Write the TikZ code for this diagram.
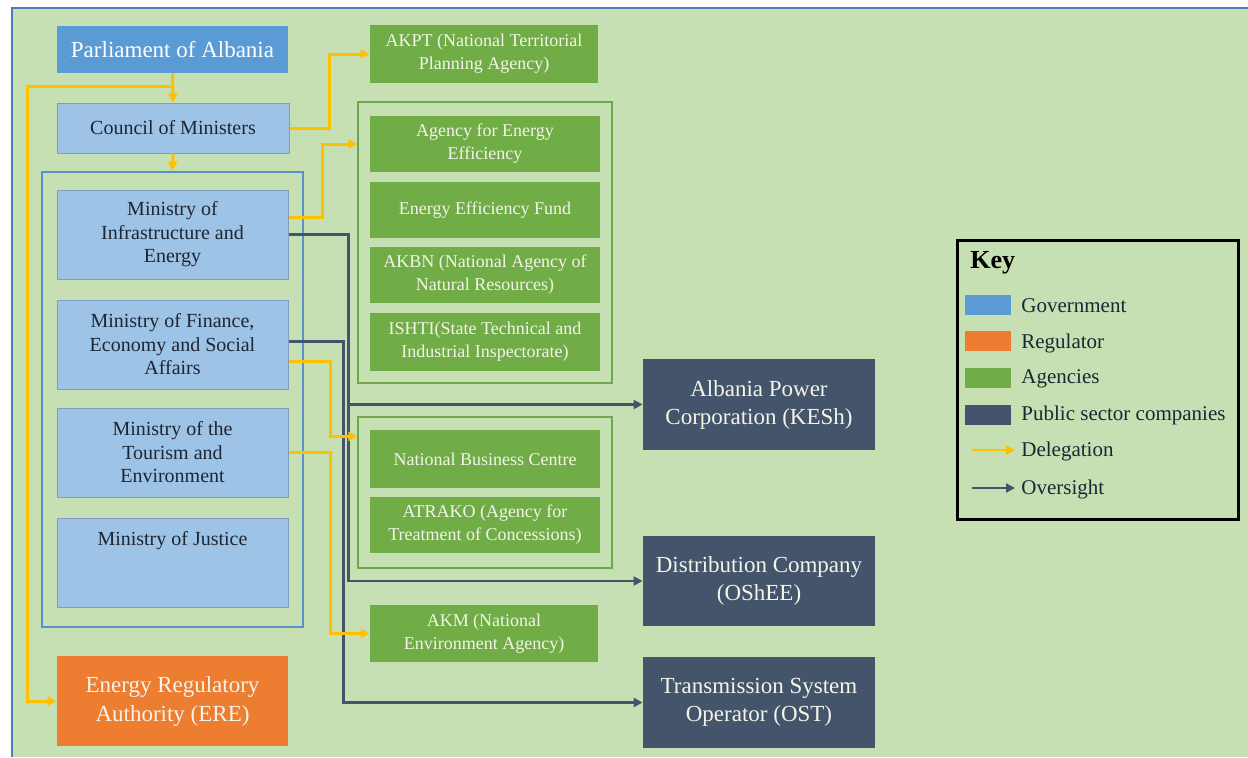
\documentclass[tikz,border=0pt]{standalone}
\usepackage{fontspec}
\setmainfont{Liberation Serif}
\usetikzlibrary{arrows.meta,calc}
\definecolor{bggreen}{HTML}{C6E0B4}
\definecolor{frameblue}{HTML}{4A7EBB}
\definecolor{midblue}{HTML}{5B9BD5}
\definecolor{lblue}{HTML}{9DC3E6}
\definecolor{lbborder}{HTML}{7F9DBE}
\definecolor{conblue}{HTML}{5B8FC9}
\definecolor{agreen}{HTML}{70AD47}
\definecolor{grpgreen}{HTML}{6FA84C}
\definecolor{dslate}{HTML}{44546A}
\definecolor{orng}{HTML}{ED7D31}
\definecolor{dyellow}{HTML}{FFC000}
\definecolor{darktxt}{HTML}{1E2633}
\definecolor{lighttxt}{HTML}{F4F4EA}
\begin{document}
\begin{tikzpicture}[x=0.5pt,y=-0.5pt,
  govbox/.style={draw=lbborder, line width=0.5pt, fill=lblue, minimum width=115.5pt, minimum height=44.5pt, align=center, font=\fontsize{10}{11.75}\selectfont, text=darktxt, inner sep=2pt},
  agency/.style={fill=agreen, minimum width=115pt, minimum height=28pt, align=center, font=\fontsize{9}{11.5}\selectfont, text=lighttxt, inner sep=2pt},
  company/.style={fill=dslate, minimum width=116pt, minimum height=45.5pt, align=center, font=\fontsize{11.5}{14}\selectfont, text=lighttxt, inner sep=2pt},
  grpbox/.style={draw=grpgreen, line width=0.7pt, minimum width=127pt, inner sep=0pt},
  deleg/.style={draw=dyellow, line width=1.5pt, -{Triangle[length=4.5pt,width=4.5pt]}},
  overs/.style={draw=dslate, line width=1.2pt, -{Triangle[length=4.5pt,width=4.5pt]}},
  swatch/.style={minimum width=23pt, minimum height=10pt, inner sep=0pt},
  keytxt/.style={anchor=west, font=\fontsize{10.5}{12}\selectfont, text=darktxt, inner sep=3pt}
]
\useasboundingbox (0,0) rectangle (1248,757);
\fill[white] (0,0) rectangle (1248,757);
\fill[bggreen] (12,8) rectangle (1248,757);
\draw[frameblue, line width=1pt] (12,757) -- (12,8) -- (1248,8);

% government column
\node[fill=midblue, minimum width=115.5pt, minimum height=23.5pt, text=white, font=\fontsize{11.5}{13}\selectfont, inner sep=2pt] (parl) at (172.5,49.5) {Parliament of Albania};
\node[govbox, minimum width=116pt, minimum height=25pt] (council) at (173,128) {Council of Ministers};
\node[draw=conblue, line width=1.4pt, minimum width=130.5pt, minimum height=227.5pt, inner sep=0pt] (minbox) at (172.5,399.5) {};
\node[govbox] (mie) at (172.5,234.5) {Ministry of\\Infrastructure and\\Energy};
\node[govbox] (mfe) at (172.5,344.5) {Ministry of Finance,\\Economy and Social\\Affairs};
\node[govbox] (mte) at (172.5,452.5) {Ministry of the\\Tourism and\\Environment};
\node[govbox, label={[font=\fontsize{10}{11.75}\selectfont, text=darktxt, anchor=center, yshift=-11.5pt]north:Ministry of Justice}] (mj) at (172.5,563) {};
\node[fill=orng, minimum width=115.5pt, minimum height=45pt, align=center, text=lighttxt, font=\fontsize{11.5}{14.5}\selectfont, inner sep=2pt] (ere) at (172.5,701) {Energy Regulatory\\Authority (ERE)};

% agencies
\node[agency, minimum width=114pt, minimum height=29pt] (akpt) at (484,54) {AKPT (National Territorial\\Planning Agency)};
\node[grpbox, minimum height=140.5pt] (grp1) at (485,242.5) {};
\node[agency] (aee) at (485,144) {Agency for Energy\\Efficiency};
\node[agency] (eef) at (485,210) {Energy Efficiency Fund};
\node[agency] (akbn) at (485,275) {AKBN (National Agency of\\Natural Resources)};
\node[agency, minimum height=29pt] (ishti) at (485,342) {ISHTI(State Technical and\\Industrial Inspectorate)};
\node[grpbox, minimum height=75.5pt] (grp2) at (485,492.5) {};
\node[agency, minimum height=29pt] (nbc) at (485,459) {National Business Centre};
\node[agency] (atrako) at (485,525) {ATRAKO (Agency for\\Treatment of Concessions)};
\node[agency, minimum width=114pt, minimum height=28.5pt] (akm) at (484,633.5) {AKM (National\\Environment Agency)};

% companies
\node[company] (kesh) at (759,404.5) {Albania Power\\Corporation (KESh)};
\node[company, minimum height=45pt] (oshee) at (759,581) {Distribution Company\\(OShEE)};
\node[company] (ost) at (759,702.5) {Transmission System\\Operator (OST)};

% oversight connectors
\draw[overs] (mie.east) -- ++(60,0) |- (kesh.west);
\draw[overs] (mie.east) -- ++(60,0) |- (oshee.west);
\draw[overs] ($(mfe.north east)+(0,42)$) -- ++(55,0) |- (ost.west);

% delegation connectors
\draw[deleg] (parl.south) -- (council.north);
\draw[deleg] (parl.south) |- (27,86) |- (ere.west);
\draw[deleg] (council.south) -- (minbox.north);
\draw[deleg] (council.east) -- ++(40,0) |- (akpt.west);
\draw[deleg] ($(mie.north east)+(0,28)$) -- ++(34,0) |- (grp1.west |- aee.center);
\draw[deleg] ($(mfe.north east)+(0,62)$) -- ++(42,0) |- ($(grp2.north west)+(0,20)$);
\draw[deleg] (mte.east) -- ++(42,0) |- (akm.west);

% key
\node[draw=black, line width=1.5pt, minimum width=140.5pt, minimum height=139.5pt, inner sep=0pt] (keybox) at (1097.5,379.5) {};
\node[anchor=west, font=\bfseries\fontsize{13}{15}\selectfont, text=black, inner sep=0pt] (keyt) at (970,263) {Key};
\node[swatch, fill=midblue] (sg) at (988,305) {};
\node[swatch, fill=orng] (sr) at (988,341) {};
\node[swatch, fill=agreen] (sa) at (988,378) {};
\node[swatch, fill=dslate] (sp) at (988,414.5) {};
\node[keytxt] (kg) at (1015,306) {Government};
\node[keytxt] (kr) at (1015,343) {Regulator};
\node[keytxt] (ka) at (1015,379) {Agencies};
\node[keytxt] (kp) at (1015,415) {Public sector companies};
\node[keytxt] (kdl) at (1015,451) {Delegation};
\node[keytxt] (kov) at (1015,489) {Oversight};
\coordinate (kdls) at (972,450);
\coordinate (kovs) at (972,488);
\draw[deleg, line width=1.2pt] (kdls) -- (kdl.west |- kdls);
\draw[overs] (kovs) -- (kov.west |- kovs);
\end{tikzpicture}
\end{document}
